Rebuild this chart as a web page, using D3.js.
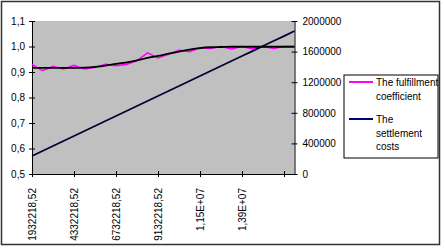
<!DOCTYPE html>
<html>
<head>
<meta charset="utf-8">
<script src="https://cdn.jsdelivr.net/npm/d3@7"></script>
<style>
  body { margin: 0; background: #fff; }
  text { font-family: "Liberation Sans", Arial, sans-serif; }
</style>
</head>
<body>
<div id="chart"></div>
<script>
// categories (x values)
const categories = [
  1932218.52, 2532218.52, 3132218.52, 3732218.52, 4332218.52, 4932218.52,
  5532218.52, 6132218.52, 6732218.52, 7332218.52, 7932218.52, 8532218.52,
  9132218.52, 9732218.52, 10332218.52, 10932218.52, 11532218.52, 12132218.52,
  12732218.52, 13332218.52, 13932218.52, 14532218.52, 15132218.52, 15732218.52,
  16332218.52, 16932218.52
];
// labels shown every 4th category
const tickLabels = ["1932218,52", "4332218,52", "6732218,52", "9132218,52", "1,15E+07", "1,39E+07", ""];

// fulfillment coefficient (left axis)
const fulfillment = [
  0.930, 0.905, 0.922, 0.912, 0.926, 0.912, 0.918, 0.930, 0.925, 0.930,
  0.945, 0.975, 0.955, 0.970, 0.985, 0.980, 0.995, 0.992, 1.000, 0.990,
  1.000, 0.990, 1.000, 0.992, 1.000, 1.000
];
// smoothed trend of the coefficient (left axis)
const trend = [
  0.916, 0.916, 0.916, 0.916, 0.916, 0.917, 0.920, 0.925, 0.932, 0.938,
  0.946, 0.955, 0.963, 0.972, 0.980, 0.988, 0.994, 0.997, 0.998, 0.999,
  0.999, 0.999, 0.999, 0.999, 0.999, 0.999
];
// settlement costs (right axis)
const costs = [
  235000, 300000, 366000, 431000, 496000, 562000, 627000, 693000, 758000, 823000,
  889000, 954000, 1019000, 1085000, 1150000, 1215000, 1281000, 1346000, 1411000, 1477000,
  1542000, 1607000, 1673000, 1738000, 1803000, 1869000
];
const leftTicks = [0.5, 0.6, 0.7, 0.8, 0.9, 1.0, 1.1];
const rightTicks = [0, 400000, 800000, 1200000, 1600000, 2000000];

const W = 445, H = 252;
const plot = { left: 32, right: 294.5, top: 21, bottom: 174 };

const svg = d3.select("#chart").append("svg")
  .attr("width", W).attr("height", H);

// outer chart frame
svg.append("rect")
  .attr("x", 1.5).attr("y", 1.5).attr("width", 438).attr("height", 243)
  .attr("fill", "#fff").attr("stroke", "#333").attr("stroke-width", 1.5);

const x = d3.scalePoint().domain(d3.range(categories.length)).range([plot.left, plot.right]);
const yL = d3.scaleLinear().domain([0.5, 1.1]).range([plot.bottom, plot.top]);
const yR = d3.scaleLinear().domain([0, 2000000]).range([plot.bottom, plot.top]);

// plot area
svg.append("rect")
  .attr("x", plot.left).attr("y", plot.top)
  .attr("width", plot.right - plot.left).attr("height", plot.bottom - plot.top)
  .attr("fill", "#c0c0c0");

// axes
const fmtL = d => d.toFixed(1).replace(".", ",");
const leftAxis = d3.axisLeft(yL).tickValues(leftTicks).tickFormat(fmtL).tickSizeInner(3).tickSizeOuter(0).tickPadding(4);
const gL = svg.append("g").attr("transform", `translate(${plot.left},0)`).call(leftAxis);
gL.selectAll(".tick line").attr("x2", 3).attr("x1", -3);

const rightAxis = d3.axisRight(yR).tickValues(rightTicks).tickFormat(d3.format("d")).tickSizeInner(3).tickSizeOuter(0).tickPadding(5);
const gR = svg.append("g").attr("transform", `translate(${plot.right},0)`).call(rightAxis);
gR.selectAll(".tick line").attr("x1", -3).attr("x2", 3);

const tickIdx = d3.range(0, categories.length, 4);
const bottomAxis = d3.axisBottom(x).tickValues(tickIdx)
  .tickFormat((d, i) => tickLabels[i]).tickSizeInner(3).tickSizeOuter(0);
const gB = svg.append("g").attr("transform", `translate(0,${plot.bottom})`).call(bottomAxis);
gB.selectAll(".tick line").attr("y1", -3).attr("y2", 3);
gB.selectAll(".tick text")
  .attr("transform", "rotate(-90)")
  .attr("text-anchor", "end")
  .attr("x", -14).attr("y", 0).attr("dy", "0.35em");

[gL, gR, gB].forEach(g => {
  g.selectAll("text").style("font-size", "10px").attr("fill", "#000")
    .style("font-family", '"Liberation Sans", Arial, sans-serif');
  g.selectAll("line, path").attr("stroke", "#000");
});

// lines
const lineL = d3.line().x((d, i) => x(i)).y(d => yL(d));
const lineR = d3.line().x((d, i) => x(i)).y(d => yR(d));

svg.append("path").datum(fulfillment)
  .attr("fill", "none").attr("stroke", "#ff00ff").attr("stroke-width", 1.6)
  .attr("d", lineL);
svg.append("path").datum(trend)
  .attr("fill", "none").attr("stroke", "#000").attr("stroke-width", 1.8)
  .attr("d", lineL.curve(d3.curveMonotoneX));
svg.append("path").datum(costs)
  .attr("fill", "none").attr("stroke", "#000033").attr("stroke-width", 1.8)
  .attr("d", lineR);

// legend
const lg = svg.append("g").attr("transform", "translate(344,75)");
lg.append("rect").attr("width", 94).attr("height", 83)
  .attr("fill", "#fff").attr("stroke", "#000").attr("stroke-width", 1);
const legendItems = [
  { color: "#ff00ff", lines: ["The fulfillment", "coefficient"], y: 7 },
  { color: "#000080", lines: ["The", "settlement", "costs"], y: 44 }
];
legendItems.forEach(it => {
  lg.append("line").attr("x1", 5).attr("x2", 29).attr("y1", it.y).attr("y2", it.y)
    .attr("stroke", it.color).attr("stroke-width", 2);
  it.lines.forEach((t, j) => {
    lg.append("text").attr("x", 32).attr("y", it.y + 4 + j * 13.5)
      .style("font-size", "10px").text(t);
  });
});
</script>
</body>
</html>
